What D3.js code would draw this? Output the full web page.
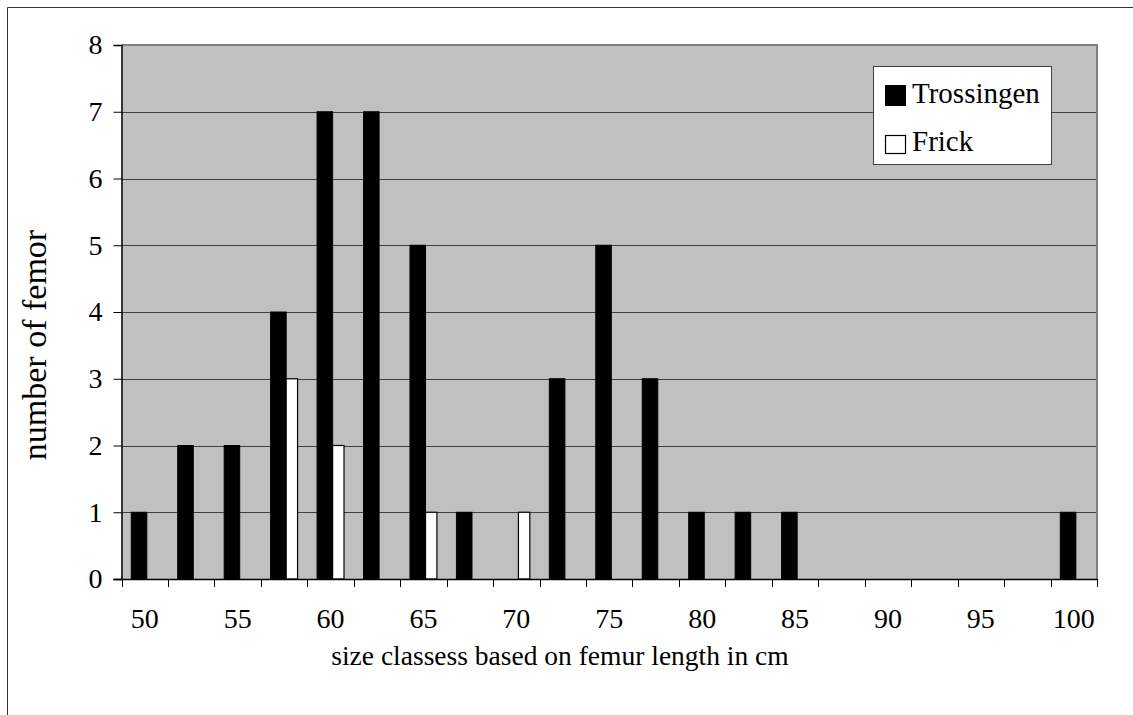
<!DOCTYPE html>
<html>
<head>
<meta charset="utf-8">
<script src="https://cdn.jsdelivr.net/npm/d3@7"></script>
<style>
  body { margin: 0; background: #fff; }
  svg text { font-family: "Liberation Serif", "Times New Roman", serif; fill: #000; }
</style>
</head>
<body>
<svg id="chart" width="1133" height="715"></svg>
<script>
// size classes (femur length in cm), one every 2.5 cm
var classes = ["50","52.5","55","57.5","60","62.5","65","67.5","70","72.5","75",
               "77.5","80","82.5","85","87.5","90","92.5","95","97.5","100"];
var trossingen = [1, 2, 2, 4, 7, 7, 5, 1, 0, 3, 5, 3, 1, 1, 1, 0, 0, 0, 0, 0, 1];
var frick      = [0, 0, 0, 3, 2, 0, 1, 0, 1, 0, 0, 0, 0, 0, 0, 0, 0, 0, 0, 0, 0];
var xLabels = ["50","55","60","65","70","75","80","85","90","95","100"];
var yTicks = [0, 1, 2, 3, 4, 5, 6, 7, 8];
var seriesNames = ["Trossingen", "Frick"];

var svg = d3.select("#chart");

// outer frame: only top and left edges are inside the picture
svg.append("path")
  .attr("d", "M7.5,715V7.5H1133")
  .attr("fill", "none").attr("stroke", "#333").attr("stroke-width", 1);

var plotL = 121.5, plotR = 1097, plotT = 45, plotB = 579;

var x = d3.scaleBand().domain(classes).range([plotL, plotR]).padding(0);
var y = d3.scaleLinear().domain([0, 8]).range([plotB, plotT]);
var bw = x.bandwidth();

// plot background
svg.append("rect")
  .attr("x", plotL).attr("y", plotT)
  .attr("width", plotR - plotL).attr("height", plotB - plotT)
  .attr("fill", "#c0c0c0");

// gridlines
svg.append("g").selectAll("line")
  .data(yTicks.filter(function(d){ return d > 0 && d < 8; }))
  .enter().append("line")
  .attr("x1", plotL).attr("x2", plotR)
  .attr("y1", function(d){ return Math.round(y(d)) + 0.5; })
  .attr("y2", function(d){ return Math.round(y(d)) + 0.5; })
  .attr("stroke", "#404040").attr("stroke-width", 1);

// plot border top / right
svg.append("path")
  .attr("d", "M" + plotL + "," + plotT + "H" + plotR + "V" + plotB)
  .attr("fill", "none").attr("stroke", "#808080").attr("stroke-width", 2);

// bars
svg.append("g").selectAll("rect")
  .data(trossingen.map(function(v, i){ return {c: classes[i], v: v}; }).filter(function(d){ return d.v > 0; }))
  .enter().append("rect")
  .attr("x", function(d){ return x(d.c) + bw * 0.21; })
  .attr("width", bw * 0.335)
  .attr("y", function(d){ return y(d.v); })
  .attr("height", function(d){ return y(0) - y(d.v); })
  .attr("fill", "#000").attr("stroke", "#000").attr("stroke-width", 1);

svg.append("g").selectAll("rect")
  .data(frick.map(function(v, i){ return {c: classes[i], v: v}; }).filter(function(d){ return d.v > 0; }))
  .enter().append("rect")
  .attr("x", function(d){ return x(d.c) + bw * 0.545; })
  .attr("width", bw * 0.245)
  .attr("y", function(d){ return y(d.v); })
  .attr("height", function(d){ return y(0) - y(d.v); })
  .attr("fill", "#fff").attr("stroke", "#000").attr("stroke-width", 1.2);

// y axis
var yAxis = svg.append("g")
  .attr("transform", "translate(" + plotL + ",0)")
  .call(d3.axisLeft(y).tickValues(yTicks).tickSize(8).tickPadding(11).tickFormat(d3.format("d")));
yAxis.select(".domain").attr("stroke", "#000").attr("stroke-width", 1.5);
yAxis.selectAll(".tick line").attr("stroke", "#000");
yAxis.selectAll(".tick text").style("font-size", "28px").style("font-family", "Liberation Serif");

// x axis: baseline, ticks at class boundaries, labels every other class
svg.append("line")
  .attr("x1", plotL - 8).attr("x2", plotR)
  .attr("y1", plotB + 0.5).attr("y2", plotB + 0.5)
  .attr("stroke", "#000").attr("stroke-width", 1.5);

var bounds = classes.map(function(c){ return x(c); }).concat([plotR]);
svg.append("g").selectAll("line")
  .data(bounds).enter().append("line")
  .attr("x1", function(d){ return Math.round(d) + 0.5; })
  .attr("x2", function(d){ return Math.round(d) + 0.5; })
  .attr("y1", plotB).attr("y2", plotB + 8)
  .attr("stroke", "#000");

svg.append("g").selectAll("text")
  .data(xLabels).enter().append("text")
  .attr("x", function(d){ return x(d) + bw / 2; })
  .attr("y", 628)
  .attr("text-anchor", "middle")
  .style("font-size", "28px")
  .text(function(d){ return d; });

// axis titles
svg.append("text")
  .attr("x", 560).attr("y", 665)
  .attr("text-anchor", "middle")
  .style("font-size", "27.5px")
  .text("size classess based on femur length in cm");

svg.append("text")
  .attr("transform", "translate(46,345) rotate(-90)")
  .attr("text-anchor", "middle")
  .style("font-size", "34px")
  .text("number of femor");

// legend
var lg = svg.append("g");
lg.append("rect")
  .attr("x", 873.5).attr("y", 66.5).attr("width", 178).attr("height", 98)
  .attr("fill", "#fff").attr("stroke", "#404040").attr("stroke-width", 1);
lg.append("rect")
  .attr("x", 885.5).attr("y", 85.5).attr("width", 20).attr("height", 20)
  .attr("fill", "#000").attr("stroke", "#000");
lg.append("rect")
  .attr("x", 885.5).attr("y", 135.5).attr("width", 20).attr("height", 18)
  .attr("fill", "#fff").attr("stroke", "#000").attr("stroke-width", 1.2);
lg.selectAll("text.lab")
  .data(seriesNames).enter().append("text")
  .attr("class", "lab")
  .attr("x", 912)
  .attr("y", function(d, i){ return i === 0 ? 103 : 151; })
  .style("font-size", "29px")
  .text(function(d){ return d; });
</script>
</body>
</html>
